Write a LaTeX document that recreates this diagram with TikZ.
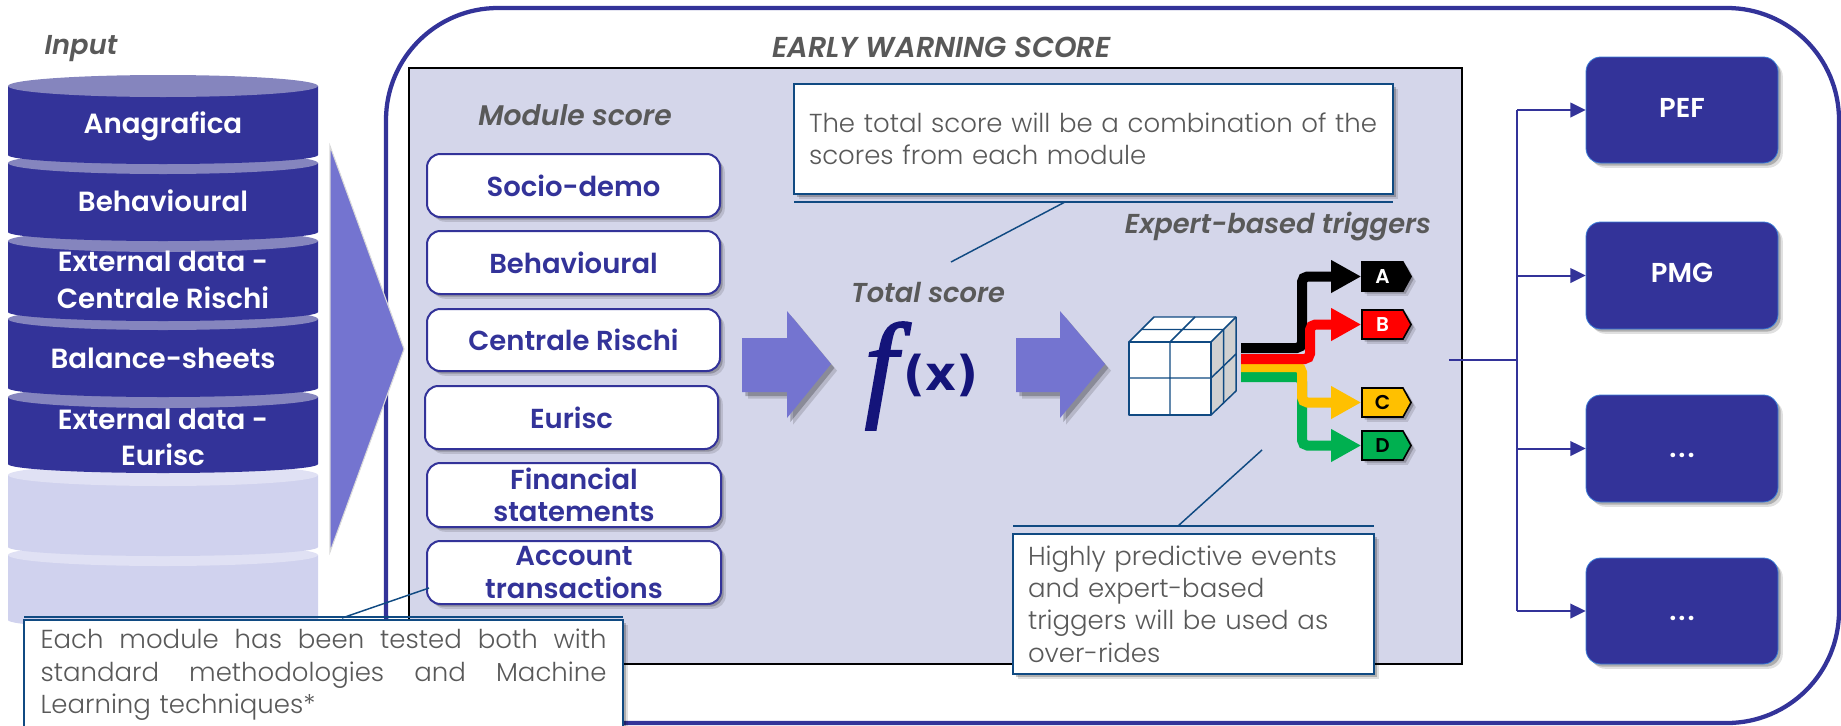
\documentclass[tikz,border=0pt]{standalone}
\usepackage{fontspec}
\usetikzlibrary{arrows.meta,shadows,shapes.symbols,calc}
\setmainfont{Poppins}
\newfontfamily\lightf{Poppins Light}
\newfontfamily\semif{Poppins SemiBold}
\newfontfamily\semiitf{Poppins SemiBold Italic}
\newfontfamily\fsym{Liberation Serif Italic}
\newfontfamily\xsym{DejaVu Sans Bold}
\definecolor{navy}{HTML}{333399}
\definecolor{navytop}{HTML}{8585BE}
\definecolor{pale}{HTML}{D0D2EE}
\definecolor{paletop}{HTML}{E0E1F4}
\definecolor{panel}{HTML}{D4D6EA}
\definecolor{blockc}{HTML}{7474D0}
\definecolor{callc}{HTML}{104A82}
\definecolor{greyt}{HTML}{595959}
\definecolor{fxc}{HTML}{14147A}
\definecolor{edgeb}{HTML}{3A7BD5}
\definecolor{ambr}{HTML}{FFC000}
\definecolor{grn}{HTML}{00B050}
\tikzset{
 softshadow/.style={drop shadow={fill=black,opacity=.12,shadow xshift=3.6pt,shadow yshift=-3.6pt},drop shadow={fill=black,opacity=.22,shadow xshift=2pt,shadow yshift=-2pt}},
 discface/.style={text=white,font=\semif\fontsize{20.8pt}{27pt}\selectfont,align=center,inner sep=0pt},
 modbox/.style={draw=navy,line width=1.5pt,fill=white,rounded corners=10pt,softshadow,inner sep=0pt,text=navy,align=center,font=\semif\fontsize{20.6pt}{24.5pt}\selectfont},
 outbox/.style={draw=edgeb,line width=.6pt,fill=navy,rounded corners=11pt,softshadow,inner sep=0pt,text=white,font=\semif\fontsize{20.5pt}{22pt}\selectfont},
 headlabel/.style={text=greyt,inner sep=0pt,font=\semiitf\fontsize{20.5pt}{22pt}\selectfont},
 callbox/.style={draw=callc,line width=1.2pt,fill=white,softshadow,inner sep=0pt,text=greyt,font=\lightf\fontsize{19.5pt}{24.3pt}\selectfont},
 callline/.style={draw=callc,line width=1.1pt},
 blockarrow/.style={fill=blockc,drop shadow={fill=black,opacity=.14,shadow xshift=4.5pt,shadow yshift=-5pt},drop shadow={fill=black,opacity=.24,shadow xshift=2.5pt,shadow yshift=-3pt}},
 tag/.style={shape=signal,signal to=east,signal pointer angle=122,draw=black,line width=1.2pt,inner sep=0pt,minimum width=38pt,minimum height=21.5pt,font=\semif\fontsize{15pt}{16pt}\selectfont,softshadow},
 band/.style={line width=7.5pt,rounded corners=4pt,-{Triangle[length=22.5pt,width=23pt]}},
 branch/.style={draw=navy,line width=1.5pt,-{Triangle[length=11.5pt,width=11pt]}},
 cubeline/.style={draw=callc,line width=1.1pt,line join=round},
}
% name, style, x1, y1, x2, y2, text
\newcommand\bx[7]{\node[#2,minimum width={(#5-#3)*0.75pt},minimum height={(#6-#4)*0.75pt}] (#1) at ({(#3+#5)/2},{(#4+#6)/2}) {#7};}
% side y, bottom y, body colour, top colour
\newcommand\disc[4]{%
 \fill[#3] (8,#1) -- (8,#2) arc[start angle=180,end angle=0,x radius=155,y radius=9] -- (318,#1) -- cycle;
 \fill[#4] (163,#1) ellipse[x radius=155,y radius=11];}
\newcommand\jline[1]{\makebox[424.5pt][s]{\spaceskip=.3em plus 1em\relax #1}}
\newcommand\dotsrow{\vphantom{P}.\kern1.5pt.\kern1.5pt.}
\newcommand\liftcaps{\rule[-3.5pt]{0pt}{0pt}}
\begin{document}
\begin{tikzpicture}[x=0.75pt,y=-0.75pt]
\useasboundingbox (0,0) rectangle (1841,725);
% outer frame and panel
\node[draw=navy,line width=3.2pt,fill=white,rounded corners=84pt,minimum width={1453*0.75pt},minimum height={715*0.75pt},inner sep=0pt] (frame) at (1112.5,365.5) {};
\node[draw=black,line width=1.5pt,fill=panel,minimum width={1053*0.75pt},minimum height={596*0.75pt},inner sep=0pt] (panelbox) at (935.5,366) {};
% stacked discs
\disc{555}{620}{pale}{paletop}
\disc{475}{547}{pale}{paletop}
\disc{397}{464}{navy}{navytop}
\disc{319}{388}{navy}{navytop}
\disc{241}{312}{navy}{navytop}
\disc{163}{232}{navy}{navytop}
\disc{86}{155}{navy}{navytop}
\node[discface] (d1) at (163,126) {Anagrafica};
\node[discface] (d2) at (163,201) {Behavioural};
\node[discface,font=\semif\fontsize{20.8pt}{28pt}\selectfont] (d3) at (163,280) {External data -\\Centrale Rischi};
\node[discface] (d4) at (163,358) {Balance-sheets};
\node[discface] (d5) at (163,437) {External data -\\Eurisc};
% big arrow
\draw[fill=blockc,draw=black!15!white,line width=.8pt] (330,146) -- (404,349) -- (330,552) -- cycle;
% labels
\node[headlabel] (linput) at (81,48.5) {Input};
\node[headlabel,font=\semiitf\fontsize{21.6pt}{22pt}\selectfont] (lews) at (941.5,47) {EARLY WARNING SCORE};
\node[headlabel,font=\semiitf\fontsize{21.2pt}{22pt}\selectfont] (lmod) at (575,115) {Module score};
\node[headlabel] (ltot) at (928,293) {Total score};
\node[headlabel] (lexp) at (1278,227) {Expert-based triggers};
% modules
\bx{m1}{modbox}{427}{154}{720}{217}{Socio-demo}
\bx{m2}{modbox}{427}{231}{720}{294}{Behavioural}
\bx{m3}{modbox}{427}{309}{720}{371}{Centrale Rischi}
\bx{m4}{modbox}{425}{386}{718}{449}{Eurisc}
\bx{m5}{modbox}{427}{463}{721}{527}{Financial\\statements}
\bx{m6}{modbox}{427}{541}{721}{604}{Account\\transactions}
% block arrows
\fill[blockarrow] (742,338) -- (787,338) -- (787,311) -- (831,364) -- (787,418) -- (787,392) -- (742,392) -- cycle;
\fill[blockarrow] (1016,338) -- (1060,338) -- (1060,311) -- (1105,364) -- (1060,418) -- (1060,392) -- (1016,392) -- cycle;
% f(x)
\node[text=fxc,inner sep=0pt,font=\fsym\fontsize{88pt}{88pt}\selectfont] (fsym) at (881,376) {\special{pdf:code 2 Tr 1.6 w}f\special{pdf:code 0 Tr 1 w}};
\node[text=fxc,inner sep=0pt,font=\xsym\fontsize{36pt}{36pt}\selectfont] (xsym) at (941,375) {(x)};
% cube
\fill[white] (1129,342) -- (1154,317) -- (1236,317) -- (1211,342) -- cycle;
\fill[white] (1129,342) rectangle (1211,415);
\fill[black!18] (1211,342) -- (1236,317) -- (1236,391) -- (1211,415) -- cycle;
\draw[cubeline] (1129,342) rectangle (1211,415);
\draw[cubeline] (1129,342) -- (1154,317) -- (1236,317) -- (1236,391) -- (1211,415);
\draw[cubeline] (1211,342) -- (1236,317);
\draw[cubeline] (1170,342) -- (1170,415) (1129,378) -- (1211,378) -- (1236,354);
\draw[cubeline] (1170,342) -- (1195,317) (1141.5,329.5) -- (1223.5,329.5) -- (1223.5,403);
% tags
\bx{tA}{tag,fill=black,text=white}{1358}{262}{1407}{291}{A}
\bx{tB}{tag,fill=red,text=white}{1358}{310}{1407}{339}{B}
\bx{tC}{tag,fill=ambr,text=black}{1358}{388}{1407}{417}{C}
\bx{tD}{tag,fill=grn,text=black}{1358}{431}{1407}{460}{D}
% bands
\coordinate (sA) at (1241,348);
\coordinate (sB) at (1241,359);
\coordinate (sC) at (1241,367);
\coordinate (sD) at (1241,377);
\coordinate (jA) at (1302,300);
\coordinate (jB) at (1310,300);
\coordinate (jC) at (1302,300);
\coordinate (jD) at (1302,300);
\draw[band,color=grn] (sD) -- (sD-|jD) |- (tD.west);
\draw[band,color=black] (sA) -- (sA-|jA) |- (tA.west);
\draw[band,color=ambr] (sC) -- (sC-|jC) |- (tC.west);
\draw[band,color=red] (sB) -- (sB-|jB) |- (tB.west);
% outputs
\bx{o1}{outbox}{1586}{57}{1778}{163}{PEF\liftcaps}
\bx{o2}{outbox}{1586}{222}{1778}{329}{PMG\liftcaps}
\bx{o3}{outbox}{1586}{395}{1778}{502}{\dotsrow}
\bx{o4}{outbox}{1586}{558}{1778}{664}{\dotsrow}
\coordinate (outS) at (1449,360);
\coordinate (outJ) at (1517,360);
\draw[draw=navy,line width=1.7pt] (outS) -- (outJ);
\draw[draw=navy,line width=1.5pt] (o1.west-|outJ) -- (o4.west-|outJ);
\draw[branch] (o1.west-|outJ) -- (o1.west);
\draw[branch] (o2.west-|outJ) -- (o2.west);
\draw[branch] (o3.west-|outJ) -- (o3.west);
\draw[branch] (o4.west-|outJ) -- (o4.west);
% callouts
\bx{cTot}{callbox,align=left,text width={569*0.75pt}}{794}{84}{1393}{194}{The total score will be a combination of the\\scores from each module}
\coordinate (cTa) at (794,202);
\coordinate (cTb) at (1393,202);
\coordinate (cTc) at (1065,202);
\coordinate (cTd) at (951,262);
\draw[callline] (cTa) -- (cTb);
\draw[callline] (cTc) -- (cTd);
\bx{cHi}{callbox,align=left,text width={331*0.75pt}}{1013}{534}{1374}{674}{Highly predictive events\\and expert-based\\triggers will be used as\\over-rides}
\coordinate (cHa) at (1013,526);
\coordinate (cHb) at (1374,526);
\coordinate (cHc) at (1178,526);
\coordinate (cHd) at (1262,450);
\draw[callline] (cHa) -- (cHb);
\draw[callline] (cHc) -- (cHd);
\coordinate (cMa) at (429,588);
\coordinate (cMb) at (342,618);
\draw[callline] (cMa) -- (cMb);
\bx{cMod}{callbox,align=left,text width={566*0.75pt}}{24}{620}{623}{730}{\jline{Each module has been tested both with}\\\jline{standard methodologies and Machine}\\Learning techniques*}
\coordinate (cMc) at (24,617);
\coordinate (cMd) at (623,617);
\draw[callline] (cMc) -- (cMd);
\end{tikzpicture}
\end{document}
